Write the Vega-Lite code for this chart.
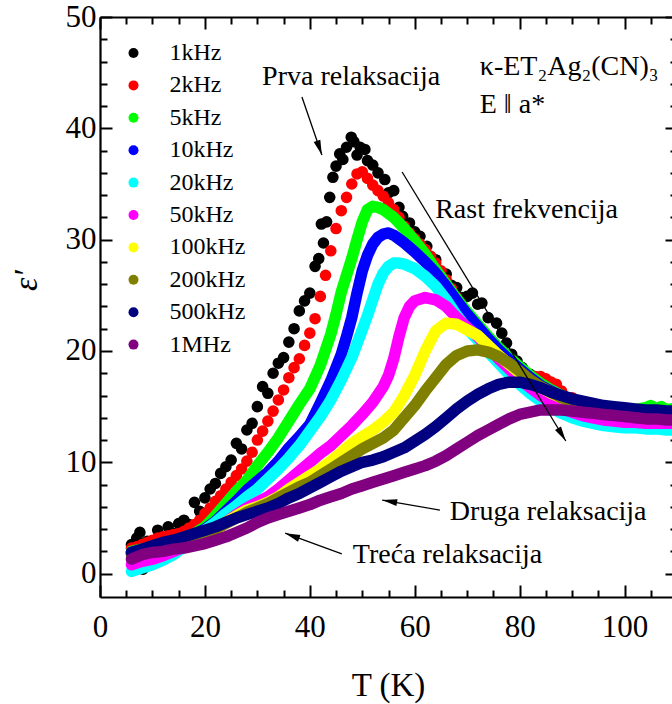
{
"$schema": "https://vega.github.io/schema/vega-lite/v6.json",
"width": 577, "height": 580,
"autosize": {"type": "none"},
"padding": {"left": 100, "top": 17, "right": -5, "bottom": 107},
"background": "white",
"config": {"view": {"stroke": null}, "font": "Liberation Serif"},
"datasets": {
"pts": [
{"f":"1kHz","T":6,"e":2.6},{"f":"1kHz","T":7,"e":3.2},{"f":"1kHz","T":7.6,"e":3.7},{"f":"1kHz","T":8.2,"e":0.4},{"f":"1kHz","T":9,"e":2.9},{"f":"1kHz","T":10,"e":2.6},{"f":"1kHz","T":11,"e":3.9},{"f":"1kHz","T":12,"e":3.1},{"f":"1kHz","T":13,"e":4.2},{"f":"1kHz","T":14,"e":3.6},{"f":"1kHz","T":15,"e":4.5},{"f":"1kHz","T":16,"e":4.8},{"f":"1kHz","T":17,"e":4.4},{"f":"1kHz","T":18,"e":6.4},{"f":"1kHz","T":19,"e":5.6},{"f":"1kHz","T":20,"e":6.8},{"f":"1kHz","T":21,"e":7.6},{"f":"1kHz","T":22,"e":8.1},{"f":"1kHz","T":23,"e":9.0},{"f":"1kHz","T":24,"e":9.6},{"f":"1kHz","T":25,"e":10.2},{"f":"1kHz","T":26,"e":11.7},{"f":"1kHz","T":27,"e":11.2},{"f":"1kHz","T":28,"e":12.9},{"f":"1kHz","T":29,"e":13.5},{"f":"1kHz","T":30,"e":15.0},{"f":"1kHz","T":31,"e":16.8},{"f":"1kHz","T":32,"e":16.2},{"f":"1kHz","T":33,"e":18.0},{"f":"1kHz","T":34,"e":18.9},{"f":"1kHz","T":35,"e":19.4},{"f":"1kHz","T":36,"e":20.8},{"f":"1kHz","T":37,"e":22.0},{"f":"1kHz","T":38,"e":23.6},{"f":"1kHz","T":39,"e":24.5},{"f":"1kHz","T":40,"e":25.2},{"f":"1kHz","T":41,"e":27.6},{"f":"1kHz","T":41.7,"e":28.3},{"f":"1kHz","T":42.2,"e":31.4},{"f":"1kHz","T":42.6,"e":29.7},{"f":"1kHz","T":43.2,"e":31.6},{"f":"1kHz","T":43.8,"e":33.8},{"f":"1kHz","T":44.4,"e":35.6},{"f":"1kHz","T":45,"e":36.6},{"f":"1kHz","T":45.7,"e":37.7},{"f":"1kHz","T":46.3,"e":37.2},{"f":"1kHz","T":47,"e":38.3},{"f":"1kHz","T":47.9,"e":39.2},{"f":"1kHz","T":48.4,"e":38.8},{"f":"1kHz","T":49,"e":37.6},{"f":"1kHz","T":49.6,"e":38.3},{"f":"1kHz","T":50.5,"e":38.1},{"f":"1kHz","T":51,"e":37.1},{"f":"1kHz","T":52,"e":36.7},{"f":"1kHz","T":53,"e":36.0},{"f":"1kHz","T":54.3,"e":35.4},{"f":"1kHz","T":55,"e":34.2},{"f":"1kHz","T":56,"e":34.4},{"f":"1kHz","T":57,"e":32.9},{"f":"1kHz","T":57.7,"e":32.1},{"f":"1kHz","T":59,"e":31.5},{"f":"1kHz","T":60,"e":30.7},{"f":"1kHz","T":61,"e":30.3},{"f":"1kHz","T":62.3,"e":29.4},{"f":"1kHz","T":63,"e":28.5},{"f":"1kHz","T":64,"e":28.2},{"f":"1kHz","T":65.3,"e":27.0},{"f":"1kHz","T":66,"e":26.9},{"f":"1kHz","T":67,"e":25.9},{"f":"1kHz","T":68,"e":25.7},{"f":"1kHz","T":69,"e":24.8},{"f":"1kHz","T":70,"e":24.9},{"f":"1kHz","T":71,"e":25.2},{"f":"1kHz","T":72,"e":24.2},{"f":"1kHz","T":72.8,"e":24.3},{"f":"1kHz","T":74,"e":23.0},{"f":"1kHz","T":75.6,"e":22.5},{"f":"1kHz","T":76.6,"e":21.6},{"f":"1kHz","T":77.5,"e":20.7},{"f":"1kHz","T":78.5,"e":19.7},{"f":"1kHz","T":79.5,"e":19.1},{"f":"1kHz","T":80.5,"e":18.5},{"f":"1kHz","T":82,"e":17.9},{"f":"1kHz","T":84,"e":17.1},{"f":"1kHz","T":86,"e":16.5},{"f":"1kHz","T":88,"e":16.0},{"f":"1kHz","T":90,"e":15.6},{"f":"1kHz","T":92,"e":15.3},{"f":"1kHz","T":94,"e":15.1},{"f":"1kHz","T":96,"e":14.9},{"f":"1kHz","T":98,"e":14.8},{"f":"1kHz","T":100,"e":14.7},{"f":"1kHz","T":102,"e":14.7},{"f":"1kHz","T":104,"e":14.6},{"f":"1kHz","T":106,"e":14.6},{"f":"1kHz","T":108,"e":14.5},
{"f":"2kHz","T":6,"e":2.3},{"f":"2kHz","T":7,"e":2.4},{"f":"2kHz","T":8,"e":2.6},{"f":"2kHz","T":9,"e":2.8},{"f":"2kHz","T":10,"e":3.0},{"f":"2kHz","T":11,"e":3.2},{"f":"2kHz","T":12,"e":3.3},{"f":"2kHz","T":13,"e":3.4},{"f":"2kHz","T":14,"e":3.5},{"f":"2kHz","T":15,"e":3.6},{"f":"2kHz","T":16,"e":3.8},{"f":"2kHz","T":17,"e":4.1},{"f":"2kHz","T":18,"e":4.4},{"f":"2kHz","T":19,"e":4.8},{"f":"2kHz","T":20,"e":5.4},{"f":"2kHz","T":21,"e":5.9},{"f":"2kHz","T":22,"e":6.5},{"f":"2kHz","T":23,"e":7.0},{"f":"2kHz","T":24,"e":7.6},{"f":"2kHz","T":25,"e":8.2},{"f":"2kHz","T":26,"e":8.8},{"f":"2kHz","T":27,"e":9.4},{"f":"2kHz","T":28,"e":10.1},{"f":"2kHz","T":29,"e":10.9},{"f":"2kHz","T":30,"e":12.0},{"f":"2kHz","T":31,"e":12.8},{"f":"2kHz","T":32,"e":13.7},{"f":"2kHz","T":33,"e":14.6},{"f":"2kHz","T":34,"e":15.6},{"f":"2kHz","T":35,"e":16.5},{"f":"2kHz","T":36,"e":17.6},{"f":"2kHz","T":37,"e":18.5},{"f":"2kHz","T":38,"e":19.3},{"f":"2kHz","T":39,"e":20.5},{"f":"2kHz","T":40,"e":21.6},{"f":"2kHz","T":41,"e":22.9},{"f":"2kHz","T":42,"e":24.9},{"f":"2kHz","T":43,"e":26.8},{"f":"2kHz","T":44,"e":29.0},{"f":"2kHz","T":45,"e":31.0},{"f":"2kHz","T":46,"e":32.6},{"f":"2kHz","T":47,"e":33.8},{"f":"2kHz","T":48,"e":35.0},{"f":"2kHz","T":49,"e":35.9},{"f":"2kHz","T":50,"e":36.1},{"f":"2kHz","T":51,"e":35.5},{"f":"2kHz","T":52,"e":34.9},{"f":"2kHz","T":53,"e":34.4},{"f":"2kHz","T":54,"e":33.9},{"f":"2kHz","T":55,"e":33.3},{"f":"2kHz","T":56,"e":32.7},{"f":"2kHz","T":57,"e":32.0},{"f":"2kHz","T":58,"e":31.2},{"f":"2kHz","T":59,"e":30.6},{"f":"2kHz","T":60,"e":30.1},{"f":"2kHz","T":61,"e":29.6},{"f":"2kHz","T":62,"e":29.1},{"f":"2kHz","T":63,"e":28.5},{"f":"2kHz","T":64,"e":27.9},{"f":"2kHz","T":65,"e":27.2},{"f":"2kHz","T":66,"e":26.4},{"f":"2kHz","T":67,"e":25.6},{"f":"2kHz","T":68,"e":24.8},{"f":"2kHz","T":69,"e":24.0},{"f":"2kHz","T":70,"e":23.3},{"f":"2kHz","T":71,"e":22.6},{"f":"2kHz","T":72,"e":22.0},{"f":"2kHz","T":73,"e":21.4},{"f":"2kHz","T":74,"e":20.8},{"f":"2kHz","T":75,"e":20.2},{"f":"2kHz","T":76,"e":19.7},{"f":"2kHz","T":77,"e":19.3},{"f":"2kHz","T":78,"e":18.9},{"f":"2kHz","T":79,"e":18.6},{"f":"2kHz","T":80,"e":18.3},{"f":"2kHz","T":81,"e":18.0},{"f":"2kHz","T":82,"e":17.8},{"f":"2kHz","T":83,"e":17.7},{"f":"2kHz","T":84,"e":17.7},{"f":"2kHz","T":85,"e":17.5},{"f":"2kHz","T":86,"e":17.2},{"f":"2kHz","T":87,"e":17.0},{"f":"2kHz","T":88,"e":16.4},{"f":"2kHz","T":90,"e":15.8},{"f":"2kHz","T":92,"e":15.4},{"f":"2kHz","T":94,"e":15.1},{"f":"2kHz","T":96,"e":14.9},{"f":"2kHz","T":98,"e":14.8},{"f":"2kHz","T":100,"e":14.7},{"f":"2kHz","T":102,"e":14.7},{"f":"2kHz","T":104,"e":14.6},{"f":"2kHz","T":106,"e":14.6},{"f":"2kHz","T":108,"e":14.5}
],
"lns": [
{"f":"5kHz","T":6,"e":2.0},{"f":"5kHz","T":8,"e":2.2},{"f":"5kHz","T":10,"e":2.4},{"f":"5kHz","T":12,"e":2.6},{"f":"5kHz","T":14,"e":2.9},{"f":"5kHz","T":16,"e":3.2},{"f":"5kHz","T":18,"e":3.6},{"f":"5kHz","T":20,"e":4.2},{"f":"5kHz","T":22,"e":5.2},{"f":"5kHz","T":24,"e":6.3},{"f":"5kHz","T":26,"e":7.4},{"f":"5kHz","T":28,"e":8.4},{"f":"5kHz","T":30,"e":9.7},{"f":"5kHz","T":32,"e":10.9},{"f":"5kHz","T":34,"e":12.2},{"f":"5kHz","T":36,"e":13.7},{"f":"5kHz","T":38,"e":15.2},{"f":"5kHz","T":40,"e":16.6},{"f":"5kHz","T":42,"e":18.7},{"f":"5kHz","T":44,"e":21.5},{"f":"5kHz","T":45,"e":23.3},{"f":"5kHz","T":46,"e":25.3},{"f":"5kHz","T":47,"e":26.8},{"f":"5kHz","T":48,"e":28.3},{"f":"5kHz","T":49,"e":30.0},{"f":"5kHz","T":50,"e":31.6},{"f":"5kHz","T":51,"e":32.7},{"f":"5kHz","T":52,"e":33.0},{"f":"5kHz","T":53,"e":32.9},{"f":"5kHz","T":54,"e":32.7},{"f":"5kHz","T":56,"e":32.0},{"f":"5kHz","T":58,"e":31.0},{"f":"5kHz","T":60,"e":29.9},{"f":"5kHz","T":62,"e":28.7},{"f":"5kHz","T":64,"e":27.3},{"f":"5kHz","T":66,"e":26.0},{"f":"5kHz","T":68,"e":24.7},{"f":"5kHz","T":70,"e":23.5},{"f":"5kHz","T":72,"e":22.4},{"f":"5kHz","T":74,"e":21.3},{"f":"5kHz","T":76,"e":20.3},{"f":"5kHz","T":78,"e":19.4},{"f":"5kHz","T":80,"e":18.6},{"f":"5kHz","T":82,"e":17.8},{"f":"5kHz","T":84,"e":17.1},{"f":"5kHz","T":86,"e":16.5},{"f":"5kHz","T":88,"e":16.0},{"f":"5kHz","T":90,"e":15.6},{"f":"5kHz","T":92,"e":15.3},{"f":"5kHz","T":94,"e":15.1},{"f":"5kHz","T":96,"e":14.9},{"f":"5kHz","T":98,"e":14.8},{"f":"5kHz","T":100,"e":14.7},{"f":"5kHz","T":102,"e":14.7},{"f":"5kHz","T":104,"e":14.9},{"f":"5kHz","T":105,"e":15.1},{"f":"5kHz","T":106,"e":14.8},{"f":"5kHz","T":107,"e":15.0},{"f":"5kHz","T":108,"e":14.7},{"f":"5kHz","T":109,"e":14.8},
{"f":"10kHz","T":6,"e":1.9},{"f":"10kHz","T":8,"e":2.1},{"f":"10kHz","T":10,"e":2.3},{"f":"10kHz","T":12,"e":2.5},{"f":"10kHz","T":14,"e":2.8},{"f":"10kHz","T":16,"e":3.1},{"f":"10kHz","T":18,"e":3.5},{"f":"10kHz","T":20,"e":4.0},{"f":"10kHz","T":22,"e":4.7},{"f":"10kHz","T":24,"e":5.6},{"f":"10kHz","T":26,"e":6.5},{"f":"10kHz","T":28,"e":7.5},{"f":"10kHz","T":30,"e":8.3},{"f":"10kHz","T":32,"e":9.1},{"f":"10kHz","T":34,"e":10.1},{"f":"10kHz","T":36,"e":11.3},{"f":"10kHz","T":38,"e":12.3},{"f":"10kHz","T":40,"e":13.4},{"f":"10kHz","T":42,"e":15.3},{"f":"10kHz","T":44,"e":17.3},{"f":"10kHz","T":46,"e":19.7},{"f":"10kHz","T":47,"e":21.3},{"f":"10kHz","T":48,"e":23.0},{"f":"10kHz","T":49,"e":25.2},{"f":"10kHz","T":50,"e":27.2},{"f":"10kHz","T":51,"e":28.6},{"f":"10kHz","T":52,"e":29.6},{"f":"10kHz","T":53,"e":30.2},{"f":"10kHz","T":54,"e":30.5},{"f":"10kHz","T":55,"e":30.6},{"f":"10kHz","T":56,"e":30.4},{"f":"10kHz","T":58,"e":29.7},{"f":"10kHz","T":60,"e":28.9},{"f":"10kHz","T":62,"e":28.0},{"f":"10kHz","T":64,"e":27.0},{"f":"10kHz","T":66,"e":25.8},{"f":"10kHz","T":68,"e":24.5},{"f":"10kHz","T":70,"e":23.3},{"f":"10kHz","T":72,"e":22.2},{"f":"10kHz","T":74,"e":21.1},{"f":"10kHz","T":76,"e":20.1},{"f":"10kHz","T":78,"e":19.2},{"f":"10kHz","T":80,"e":18.4},{"f":"10kHz","T":82,"e":17.6},{"f":"10kHz","T":84,"e":16.9},{"f":"10kHz","T":86,"e":16.4},{"f":"10kHz","T":88,"e":15.9},{"f":"10kHz","T":90,"e":15.5},{"f":"10kHz","T":92,"e":15.2},{"f":"10kHz","T":94,"e":15.0},{"f":"10kHz","T":96,"e":14.8},{"f":"10kHz","T":98,"e":14.7},{"f":"10kHz","T":100,"e":14.6},{"f":"10kHz","T":102,"e":14.5},{"f":"10kHz","T":104,"e":14.5},{"f":"10kHz","T":106,"e":14.4},{"f":"10kHz","T":108,"e":14.4},{"f":"10kHz","T":109,"e":14.4},
{"f":"20kHz","T":6,"e":0.2},{"f":"20kHz","T":8,"e":0.5},{"f":"20kHz","T":10,"e":0.8},{"f":"20kHz","T":12,"e":1.2},{"f":"20kHz","T":14,"e":1.7},{"f":"20kHz","T":16,"e":2.4},{"f":"20kHz","T":18,"e":3.2},{"f":"20kHz","T":20,"e":3.9},{"f":"20kHz","T":22,"e":4.6},{"f":"20kHz","T":24,"e":5.4},{"f":"20kHz","T":26,"e":6.1},{"f":"20kHz","T":28,"e":6.9},{"f":"20kHz","T":30,"e":7.6},{"f":"20kHz","T":32,"e":8.5},{"f":"20kHz","T":34,"e":9.4},{"f":"20kHz","T":36,"e":10.4},{"f":"20kHz","T":38,"e":11.5},{"f":"20kHz","T":40,"e":12.8},{"f":"20kHz","T":42,"e":14.1},{"f":"20kHz","T":44,"e":15.6},{"f":"20kHz","T":46,"e":17.4},{"f":"20kHz","T":48,"e":19.4},{"f":"20kHz","T":50,"e":21.9},{"f":"20kHz","T":51,"e":23.2},{"f":"20kHz","T":52,"e":24.6},{"f":"20kHz","T":53,"e":26.0},{"f":"20kHz","T":54,"e":27.0},{"f":"20kHz","T":55,"e":27.6},{"f":"20kHz","T":56,"e":27.9},{"f":"20kHz","T":57,"e":27.9},{"f":"20kHz","T":58,"e":27.8},{"f":"20kHz","T":60,"e":27.4},{"f":"20kHz","T":62,"e":26.7},{"f":"20kHz","T":64,"e":25.8},{"f":"20kHz","T":66,"e":24.6},{"f":"20kHz","T":68,"e":23.2},{"f":"20kHz","T":70,"e":22.0},{"f":"20kHz","T":72,"e":21.0},{"f":"20kHz","T":74,"e":19.9},{"f":"20kHz","T":76,"e":18.9},{"f":"20kHz","T":78,"e":17.9},{"f":"20kHz","T":80,"e":17.0},{"f":"20kHz","T":82,"e":16.2},{"f":"20kHz","T":84,"e":15.5},{"f":"20kHz","T":86,"e":14.9},{"f":"20kHz","T":88,"e":14.4},{"f":"20kHz","T":90,"e":14.0},{"f":"20kHz","T":92,"e":13.7},{"f":"20kHz","T":94,"e":13.5},{"f":"20kHz","T":96,"e":13.3},{"f":"20kHz","T":98,"e":13.2},{"f":"20kHz","T":100,"e":13.1},{"f":"20kHz","T":102,"e":13.1},{"f":"20kHz","T":104,"e":13.0},{"f":"20kHz","T":106,"e":13.0},{"f":"20kHz","T":108,"e":12.9},{"f":"20kHz","T":109,"e":12.9},
{"f":"50kHz","T":6,"e":0.8},{"f":"50kHz","T":8,"e":1.1},{"f":"50kHz","T":10,"e":1.3},{"f":"50kHz","T":12,"e":1.6},{"f":"50kHz","T":14,"e":2.0},{"f":"50kHz","T":16,"e":2.4},{"f":"50kHz","T":18,"e":2.8},{"f":"50kHz","T":20,"e":3.3},{"f":"50kHz","T":22,"e":3.9},{"f":"50kHz","T":24,"e":4.6},{"f":"50kHz","T":26,"e":5.3},{"f":"50kHz","T":28,"e":5.9},{"f":"50kHz","T":30,"e":6.4},{"f":"50kHz","T":32,"e":6.9},{"f":"50kHz","T":34,"e":7.6},{"f":"50kHz","T":36,"e":8.4},{"f":"50kHz","T":38,"e":9.2},{"f":"50kHz","T":40,"e":10.0},{"f":"50kHz","T":42,"e":10.8},{"f":"50kHz","T":44,"e":11.5},{"f":"50kHz","T":46,"e":12.4},{"f":"50kHz","T":48,"e":13.3},{"f":"50kHz","T":50,"e":14.3},{"f":"50kHz","T":52,"e":15.4},{"f":"50kHz","T":54,"e":16.8},{"f":"50kHz","T":55,"e":17.8},{"f":"50kHz","T":56,"e":19.3},{"f":"50kHz","T":57,"e":21.3},{"f":"50kHz","T":58,"e":23.0},{"f":"50kHz","T":59,"e":24.0},{"f":"50kHz","T":60,"e":24.5},{"f":"50kHz","T":62,"e":24.8},{"f":"50kHz","T":64,"e":24.6},{"f":"50kHz","T":66,"e":24.0},{"f":"50kHz","T":68,"e":23.0},{"f":"50kHz","T":70,"e":22.1},{"f":"50kHz","T":72,"e":21.3},{"f":"50kHz","T":74,"e":20.3},{"f":"50kHz","T":76,"e":19.3},{"f":"50kHz","T":78,"e":18.4},{"f":"50kHz","T":80,"e":17.5},{"f":"50kHz","T":82,"e":16.7},{"f":"50kHz","T":84,"e":16.0},{"f":"50kHz","T":86,"e":15.4},{"f":"50kHz","T":88,"e":14.9},{"f":"50kHz","T":90,"e":14.5},{"f":"50kHz","T":92,"e":14.2},{"f":"50kHz","T":94,"e":14.0},{"f":"50kHz","T":96,"e":13.8},{"f":"50kHz","T":98,"e":13.7},{"f":"50kHz","T":100,"e":13.6},{"f":"50kHz","T":102,"e":13.6},{"f":"50kHz","T":104,"e":13.5},{"f":"50kHz","T":106,"e":13.5},{"f":"50kHz","T":108,"e":13.5},{"f":"50kHz","T":109,"e":13.5},
{"f":"100kHz","T":6,"e":1.5},{"f":"100kHz","T":8,"e":1.8},{"f":"100kHz","T":10,"e":2.0},{"f":"100kHz","T":12,"e":2.2},{"f":"100kHz","T":14,"e":2.5},{"f":"100kHz","T":16,"e":2.8},{"f":"100kHz","T":18,"e":3.1},{"f":"100kHz","T":20,"e":3.5},{"f":"100kHz","T":22,"e":4.0},{"f":"100kHz","T":24,"e":4.6},{"f":"100kHz","T":26,"e":5.2},{"f":"100kHz","T":28,"e":5.7},{"f":"100kHz","T":30,"e":6.0},{"f":"100kHz","T":32,"e":6.4},{"f":"100kHz","T":34,"e":6.9},{"f":"100kHz","T":36,"e":7.6},{"f":"100kHz","T":38,"e":8.2},{"f":"100kHz","T":40,"e":8.8},{"f":"100kHz","T":42,"e":9.4},{"f":"100kHz","T":44,"e":10.1},{"f":"100kHz","T":46,"e":10.9},{"f":"100kHz","T":48,"e":11.7},{"f":"100kHz","T":50,"e":12.3},{"f":"100kHz","T":52,"e":12.9},{"f":"100kHz","T":54,"e":13.6},{"f":"100kHz","T":56,"e":14.5},{"f":"100kHz","T":58,"e":16.0},{"f":"100kHz","T":60,"e":17.8},{"f":"100kHz","T":62,"e":20.0},{"f":"100kHz","T":64,"e":21.8},{"f":"100kHz","T":66,"e":22.5},{"f":"100kHz","T":68,"e":22.4},{"f":"100kHz","T":70,"e":21.9},{"f":"100kHz","T":72,"e":21.4},{"f":"100kHz","T":74,"e":20.5},{"f":"100kHz","T":76,"e":19.6},{"f":"100kHz","T":78,"e":18.8},{"f":"100kHz","T":80,"e":18.0},{"f":"100kHz","T":82,"e":17.3},{"f":"100kHz","T":84,"e":16.7},{"f":"100kHz","T":86,"e":16.2},{"f":"100kHz","T":88,"e":15.8},{"f":"100kHz","T":90,"e":15.4},{"f":"100kHz","T":92,"e":15.1},{"f":"100kHz","T":94,"e":14.9},{"f":"100kHz","T":96,"e":14.7},{"f":"100kHz","T":98,"e":14.6},{"f":"100kHz","T":100,"e":14.5},{"f":"100kHz","T":102,"e":14.4},{"f":"100kHz","T":104,"e":14.4},{"f":"100kHz","T":106,"e":14.3},{"f":"100kHz","T":108,"e":14.3},{"f":"100kHz","T":109,"e":14.3},
{"f":"200kHz","T":6,"e":1.7},{"f":"200kHz","T":8,"e":2.0},{"f":"200kHz","T":10,"e":2.3},{"f":"200kHz","T":12,"e":2.6},{"f":"200kHz","T":14,"e":2.8},{"f":"200kHz","T":16,"e":3.1},{"f":"200kHz","T":18,"e":3.3},{"f":"200kHz","T":20,"e":3.6},{"f":"200kHz","T":22,"e":4.0},{"f":"200kHz","T":24,"e":4.5},{"f":"200kHz","T":26,"e":5.0},{"f":"200kHz","T":28,"e":5.5},{"f":"200kHz","T":30,"e":5.9},{"f":"200kHz","T":32,"e":6.3},{"f":"200kHz","T":34,"e":6.8},{"f":"200kHz","T":36,"e":7.3},{"f":"200kHz","T":38,"e":7.8},{"f":"200kHz","T":40,"e":8.2},{"f":"200kHz","T":42,"e":8.8},{"f":"200kHz","T":44,"e":9.4},{"f":"200kHz","T":46,"e":10.0},{"f":"200kHz","T":48,"e":10.6},{"f":"200kHz","T":50,"e":11.2},{"f":"200kHz","T":52,"e":11.7},{"f":"200kHz","T":54,"e":12.2},{"f":"200kHz","T":56,"e":12.9},{"f":"200kHz","T":58,"e":14.0},{"f":"200kHz","T":60,"e":15.1},{"f":"200kHz","T":62,"e":16.4},{"f":"200kHz","T":64,"e":17.6},{"f":"200kHz","T":66,"e":18.8},{"f":"200kHz","T":68,"e":19.6},{"f":"200kHz","T":70,"e":20.0},{"f":"200kHz","T":72,"e":20.1},{"f":"200kHz","T":74,"e":19.9},{"f":"200kHz","T":76,"e":19.5},{"f":"200kHz","T":78,"e":18.9},{"f":"200kHz","T":80,"e":18.2},{"f":"200kHz","T":82,"e":17.4},{"f":"200kHz","T":84,"e":16.8},{"f":"200kHz","T":86,"e":16.3},{"f":"200kHz","T":88,"e":15.8},{"f":"200kHz","T":90,"e":15.4},{"f":"200kHz","T":92,"e":15.1},{"f":"200kHz","T":94,"e":14.9},{"f":"200kHz","T":96,"e":14.7},{"f":"200kHz","T":98,"e":14.6},{"f":"200kHz","T":100,"e":14.5},{"f":"200kHz","T":102,"e":14.4},{"f":"200kHz","T":104,"e":14.3},{"f":"200kHz","T":106,"e":14.2},{"f":"200kHz","T":108,"e":14.2},{"f":"200kHz","T":109,"e":14.2},
{"f":"500kHz","T":6,"e":1.9},{"f":"500kHz","T":8,"e":2.2},{"f":"500kHz","T":10,"e":2.5},{"f":"500kHz","T":12,"e":2.8},{"f":"500kHz","T":14,"e":3.0},{"f":"500kHz","T":16,"e":3.3},{"f":"500kHz","T":18,"e":3.6},{"f":"500kHz","T":20,"e":3.9},{"f":"500kHz","T":22,"e":4.2},{"f":"500kHz","T":24,"e":4.6},{"f":"500kHz","T":26,"e":5.0},{"f":"500kHz","T":28,"e":5.3},{"f":"500kHz","T":30,"e":5.6},{"f":"500kHz","T":32,"e":5.9},{"f":"500kHz","T":34,"e":6.3},{"f":"500kHz","T":36,"e":6.8},{"f":"500kHz","T":38,"e":7.2},{"f":"500kHz","T":40,"e":7.7},{"f":"500kHz","T":42,"e":8.2},{"f":"500kHz","T":44,"e":8.7},{"f":"500kHz","T":46,"e":9.2},{"f":"500kHz","T":48,"e":9.6},{"f":"500kHz","T":50,"e":10.0},{"f":"500kHz","T":52,"e":10.2},{"f":"500kHz","T":54,"e":10.5},{"f":"500kHz","T":56,"e":10.9},{"f":"500kHz","T":58,"e":11.3},{"f":"500kHz","T":60,"e":11.9},{"f":"500kHz","T":62,"e":12.5},{"f":"500kHz","T":64,"e":13.2},{"f":"500kHz","T":66,"e":14.0},{"f":"500kHz","T":68,"e":14.8},{"f":"500kHz","T":70,"e":15.5},{"f":"500kHz","T":72,"e":16.1},{"f":"500kHz","T":74,"e":16.6},{"f":"500kHz","T":76,"e":17.0},{"f":"500kHz","T":78,"e":17.2},{"f":"500kHz","T":80,"e":17.2},{"f":"500kHz","T":82,"e":17.0},{"f":"500kHz","T":84,"e":16.7},{"f":"500kHz","T":86,"e":16.3},{"f":"500kHz","T":88,"e":16.0},{"f":"500kHz","T":90,"e":15.7},{"f":"500kHz","T":92,"e":15.5},{"f":"500kHz","T":94,"e":15.3},{"f":"500kHz","T":96,"e":15.1},{"f":"500kHz","T":98,"e":15.0},{"f":"500kHz","T":100,"e":14.9},{"f":"500kHz","T":102,"e":14.8},{"f":"500kHz","T":104,"e":14.7},{"f":"500kHz","T":106,"e":14.7},{"f":"500kHz","T":108,"e":14.6},{"f":"500kHz","T":109,"e":14.6},
{"f":"1MHz","T":6,"e":1.3},{"f":"1MHz","T":8,"e":1.7},{"f":"1MHz","T":10,"e":1.9},{"f":"1MHz","T":12,"e":2.0},{"f":"1MHz","T":14,"e":2.2},{"f":"1MHz","T":16,"e":2.3},{"f":"1MHz","T":18,"e":2.5},{"f":"1MHz","T":20,"e":2.7},{"f":"1MHz","T":22,"e":3.0},{"f":"1MHz","T":24,"e":3.3},{"f":"1MHz","T":26,"e":3.7},{"f":"1MHz","T":28,"e":4.1},{"f":"1MHz","T":30,"e":4.6},{"f":"1MHz","T":32,"e":5.0},{"f":"1MHz","T":34,"e":5.3},{"f":"1MHz","T":36,"e":5.6},{"f":"1MHz","T":38,"e":5.9},{"f":"1MHz","T":40,"e":6.2},{"f":"1MHz","T":42,"e":6.6},{"f":"1MHz","T":44,"e":6.9},{"f":"1MHz","T":46,"e":7.2},{"f":"1MHz","T":48,"e":7.6},{"f":"1MHz","T":50,"e":7.9},{"f":"1MHz","T":52,"e":8.2},{"f":"1MHz","T":54,"e":8.5},{"f":"1MHz","T":56,"e":8.8},{"f":"1MHz","T":58,"e":9.1},{"f":"1MHz","T":60,"e":9.4},{"f":"1MHz","T":62,"e":9.7},{"f":"1MHz","T":64,"e":10.1},{"f":"1MHz","T":66,"e":10.6},{"f":"1MHz","T":68,"e":11.2},{"f":"1MHz","T":70,"e":11.8},{"f":"1MHz","T":72,"e":12.4},{"f":"1MHz","T":74,"e":12.9},{"f":"1MHz","T":76,"e":13.4},{"f":"1MHz","T":78,"e":13.9},{"f":"1MHz","T":80,"e":14.3},{"f":"1MHz","T":82,"e":14.5},{"f":"1MHz","T":84,"e":14.7},{"f":"1MHz","T":86,"e":14.7},{"f":"1MHz","T":88,"e":14.7},{"f":"1MHz","T":90,"e":14.6},{"f":"1MHz","T":92,"e":14.5},{"f":"1MHz","T":94,"e":14.4},{"f":"1MHz","T":96,"e":14.3},{"f":"1MHz","T":98,"e":14.2},{"f":"1MHz","T":100,"e":14.1},{"f":"1MHz","T":102,"e":14.0},{"f":"1MHz","T":104,"e":13.9},{"f":"1MHz","T":106,"e":13.9},{"f":"1MHz","T":108,"e":13.8},{"f":"1MHz","T":109,"e":13.8}
],
"notes": [
{"T":72.4,"e":44.79,"t":"κ-ET₂Ag₂(CN)₃"},
{"T":72.4,"e":41.38,"t":"E ‖ a*"},
{"T":30.9,"e":43.89,"t":"Prva relaksacija"},
{"T":63.9,"e":31.94,"t":"Rast frekvencija"},
{"T":66.7,"e":4.82,"t":"Druga relaksacija"},
{"T":48.2,"e":0.95,"t":"Treća relaksacija"}
],
"arrows": [
{"T":38.5,"e":42.81,"T2":42.3,"e2":37.6,"a":161},
{"T":57.6,"e":36.08,"T2":88.8,"e2":11.91,"a":148.7},
{"T":64.8,"e":5.71,"T2":53.8,"e2":6.61,"a":279.8},
{"T":46.1,"e":1.77,"T2":35.3,"e2":3.63,"a":290.2}
]
},
"resolve": {"axis": {"x": "independent", "y": "independent"}},
"layer": [
{
"data": {"name": "pts"},
"mark": {"type": "point", "filled": true, "size": 135, "opacity": 1},
"encoding": {
"x": {"field": "T", "type": "quantitative", "scale": {"domain": [0, 110], "nice": false, "zero": false},
 "axis": {"orient": "bottom", "values": [0,5,10,15,20,25,30,35,40,45,50,55,60,65,70,75,80,85,90,95,100,105,110],
  "labelExpr": "datum.value % 20 === 0 ? datum.label : ''",
  "tickSize": {"condition": {"test": "datum.value % 20 === 0", "value": -12}, "value": -7},
  "tickWidth": 2, "tickColor": "black", "domainColor": "black", "domainWidth": 2.2, "grid": false,
  "labelFont": "Liberation Serif", "labelFontSize": 31, "labelColor": "black", "labelPadding": 27,
  "labelFlush": false, "labelOverlap": false,
  "title": "T (K)", "titleFont": "Liberation Serif", "titleFontSize": 33, "titleFontWeight": "normal", "titleColor": "black",
  "titleX": 288, "titleY": 98, "titleBaseline": "alphabetic", "titleAlign": "center"}},
"y": {"field": "e", "type": "quantitative", "scale": {"domain": [-2.1, 50], "nice": false, "zero": false},
 "axis": {"orient": "left", "values": [0,2,4,6,8,10,12,14,16,18,20,22,24,26,28,30,32,34,36,38,40,42,44,46,48,50],
  "labelExpr": "datum.value % 10 === 0 ? datum.label : ''",
  "tickSize": {"condition": {"test": "datum.value % 10 === 0", "value": -12}, "value": -7},
  "tickWidth": 2, "tickColor": "black", "domainColor": "black", "domainWidth": 2.2, "grid": false,
  "labelFont": "Liberation Serif", "labelFontSize": 31, "labelColor": "black", "labelPadding": 16,
  "labelFlush": false, "labelOverlap": false,
  "title": "ε′", "titleFont": "Liberation Serif", "titleFontStyle": "italic", "titleFontSize": 34, "titleFontWeight": "normal", "titleColor": "black",
  "titleAngle": -90, "titleX": -64, "titleY": 263, "titleBaseline": "alphabetic", "titleAlign": "center"}},
"color": {"field": "f", "type": "nominal",
 "scale": {"domain": ["1kHz","2kHz","5kHz","10kHz","20kHz","50kHz","100kHz","200kHz","500kHz","1MHz"],
  "range": ["#000000","#ff0000","#00ff00","#0000ff","#00ffff","#ff00ff","#ffff00","#808000","#000080","#800080"]},
 "legend": {"orient": "none", "legendX": 21.5, "legendY": 24, "title": null, "symbolType": "circle", "symbolSize": 100,
  "labelFont": "Liberation Serif", "labelFontSize": 24, "labelColor": "black", "rowPadding": 8.4, "labelOffset": 24, "padding": 0, "symbolStrokeWidth": 0}}
}
},
{
"data": {"name": "lns"},
"mark": {"type": "line", "strokeWidth": 11.5, "strokeCap": "round", "strokeJoin": "round"},
"encoding": {
"x": {"field": "T", "type": "quantitative", "scale": {"domain": [0, 110], "nice": false, "zero": false},
 "axis": {"orient": "top", "values": [0,5,10,15,20,25,30,35,40,45,50,55,60,65,70,75,80,85,90,95,100,105,110], "labels": false,
  "tickSize": {"condition": {"test": "datum.value % 20 === 0", "value": -12}, "value": -7},
  "tickWidth": 2, "tickColor": "black", "domainColor": "black", "domainWidth": 2.2, "grid": false, "title": null}},
"y": {"field": "e", "type": "quantitative", "scale": {"domain": [-2.1, 50], "nice": false, "zero": false},
 "axis": {"orient": "right", "values": [0,2,4,6,8,10,12,14,16,18,20,22,24,26,28,30,32,34,36,38,40,42,44,46,48,50], "labels": false,
  "tickSize": {"condition": {"test": "datum.value % 10 === 0", "value": -12}, "value": -7},
  "tickWidth": 2, "tickColor": "black", "domainColor": "black", "domainWidth": 2.2, "grid": false, "title": null}},
"stroke": {"field": "f", "type": "nominal",
 "scale": {"domain": ["5kHz","10kHz","20kHz","50kHz","100kHz","200kHz","500kHz","1MHz"],
  "range": ["#00ff00","#0000ff","#00ffff","#ff00ff","#ffff00","#808000","#000080","#800080"]},
 "legend": null}
}
},
{
"data": {"name": "arrows"},
"mark": {"type": "rule", "color": "black", "strokeWidth": 1.3},
"encoding": {
"x": {"field": "T", "type": "quantitative", "axis": null},
"y": {"field": "e", "type": "quantitative", "axis": null},
"x2": {"field": "T2"},
"y2": {"field": "e2"}
}
},
{
"data": {"name": "arrows"},
"mark": {"type": "point", "shape": "M0,0L-0.7,3L0.7,3Z", "filled": true, "size": 100, "color": "black", "opacity": 1},
"encoding": {
"x": {"field": "T2", "type": "quantitative", "axis": null},
"y": {"field": "e2", "type": "quantitative", "axis": null},
"angle": {"field": "a", "type": "quantitative", "scale": null}
}
},
{
"data": {"name": "notes"},
"mark": {"type": "text", "align": "left", "baseline": "alphabetic", "font": "Liberation Serif", "fontSize": 28, "color": "black"},
"encoding": {
"x": {"field": "T", "type": "quantitative", "axis": null},
"y": {"field": "e", "type": "quantitative", "axis": null},
"text": {"field": "t"}
}
}
]
}
